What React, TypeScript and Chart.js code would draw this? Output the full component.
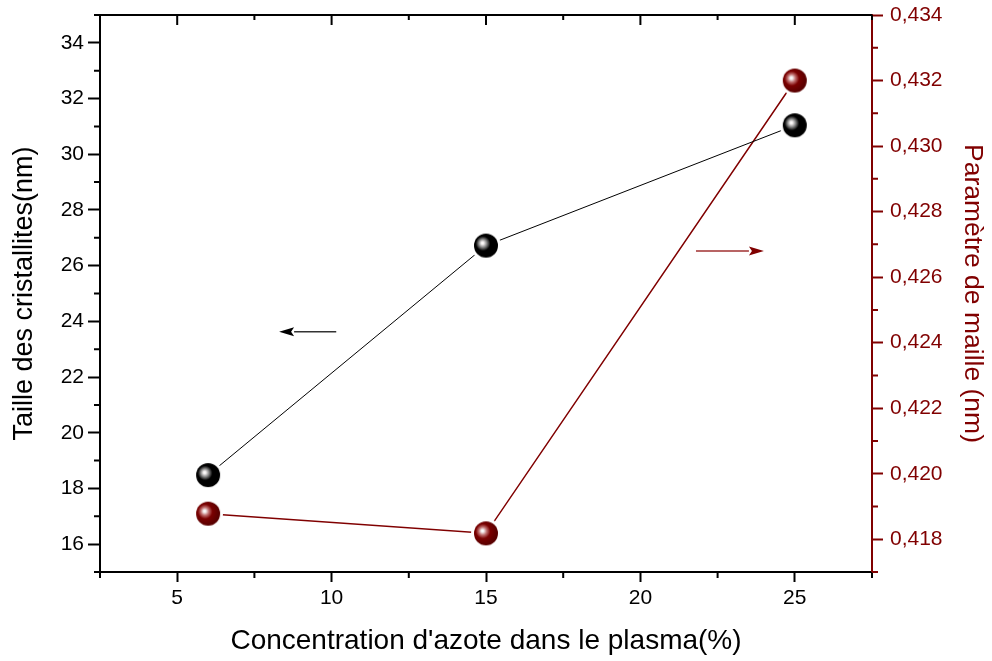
import { useEffect, useRef } from 'react';
import { Chart, registerables } from 'chart.js';
Chart.register(...registerables);

// ---- data ----
const concentration = [6, 15, 25];
const crystalliteSize = [18.48, 26.72, 31.04];
const latticeParam = [0.41878, 0.41818, 0.432];

// ---- ticks ----
const xMajorTicks = [5, 10, 15, 20, 25];
const xMinorTicks = [2.5, 7.5, 12.5, 17.5, 22.5, 27.5];
const yLeftMajorTicks = [16, 18, 20, 22, 24, 26, 28, 30, 32, 34];
const yLeftMinorTicks = [15, 17, 19, 21, 23, 25, 27, 29, 31, 33, 35];
const yRightMajorTicks = [0.418, 0.42, 0.422, 0.424, 0.426, 0.428, 0.43, 0.432, 0.434];
const yRightMinorTicks = [0.417, 0.419, 0.421, 0.423, 0.425, 0.427, 0.429, 0.431, 0.433];

// ---- arrow annotations (data units) ----
const leftArrow = { from: 10.15, to: 8.3, value: 23.63 };
const rightArrow = { from: 21.8, to: 24.0, value: 0.4268 };

const FONT = "'Liberation Sans', Arial, Helvetica, sans-serif";
const RED = '#800000';

function makeSphere(base: string, mid: string, edge: string, r: number): HTMLCanvasElement {
  const pad = 3;
  const size = Math.ceil((r + pad) * 2);
  const c = document.createElement('canvas');
  c.width = size;
  c.height = size;
  const ctx = c.getContext('2d')!;
  const cx = size / 2;
  const cy = size / 2;
  ctx.fillStyle = '#ffffff';
  ctx.beginPath();
  ctx.arc(cx, cy, r + pad, 0, Math.PI * 2);
  ctx.fill();
  const hx = cx - r * 0.3;
  const hy = cy - r * 0.22;
  const g = ctx.createRadialGradient(hx, hy, 0, hx + r * 0.1, hy + r * 0.08, r * 1.1);
  g.addColorStop(0, '#ffffff');
  g.addColorStop(0.1, '#f4f0f0');
  g.addColorStop(0.3, mid);
  g.addColorStop(0.55, base);
  g.addColorStop(1, edge);
  ctx.fillStyle = g;
  ctx.beginPath();
  ctx.arc(cx, cy, r, 0, Math.PI * 2);
  ctx.fill();
  return c;
}

function drawArrow(ctx: CanvasRenderingContext2D, x1: number, x2: number, y: number, lineColor: string, headColor: string, lw: number) {
  const dir = Math.sign(x2 - x1);
  const headLen = 15;
  const headHalf = 4.5;
  ctx.save();
  ctx.strokeStyle = lineColor;
  ctx.lineWidth = lw;
  ctx.beginPath();
  ctx.moveTo(x1, y);
  ctx.lineTo(x2 - dir * headLen, y);
  ctx.stroke();
  ctx.fillStyle = headColor;
  ctx.beginPath();
  ctx.moveTo(x2, y);
  ctx.lineTo(x2 - dir * headLen, y - headHalf);
  ctx.lineTo(x2 - dir * headLen * 0.8, y);
  ctx.lineTo(x2 - dir * headLen, y + headHalf);
  ctx.closePath();
  ctx.fill();
  ctx.restore();
}

const framePlugin = {
  id: 'frameAndMinor',
  afterDatasetsDraw(chart: any) {
    const { ctx, scales } = chart;
    const x = scales.x;
    const y = scales.y;
    const y2 = scales.y2;
    drawArrow(ctx, x.getPixelForValue(leftArrow.from), x.getPixelForValue(leftArrow.to), y.getPixelForValue(leftArrow.value), '#333333', '#000000', 1.5);
    drawArrow(ctx, x.getPixelForValue(rightArrow.from), x.getPixelForValue(rightArrow.to), y2.getPixelForValue(rightArrow.value), '#b86464', RED, 2);
  },
  afterDraw(chart: any) {
    const { ctx, chartArea, scales } = chart;
    const x = scales.x;
    const y = scales.y;
    const y2 = scales.y2;
    ctx.save();
    ctx.lineWidth = 2;
    ctx.strokeStyle = '#000';
    // top frame
    ctx.beginPath();
    ctx.moveTo(chartArea.left - 1, chartArea.top);
    ctx.lineTo(chartArea.right, chartArea.top);
    ctx.stroke();
    ctx.beginPath();
    for (const v of xMajorTicks) {
      const px = x.getPixelForValue(v);
      ctx.moveTo(px, chartArea.top);
      ctx.lineTo(px, chartArea.top + 10);
    }
    for (const v of xMinorTicks) {
      const px = x.getPixelForValue(v);
      ctx.moveTo(px, chartArea.top);
      ctx.lineTo(px, chartArea.top + 5);
      // bottom minor
      ctx.moveTo(px, chartArea.bottom);
      ctx.lineTo(px, chartArea.bottom + 6);
    }
    for (const v of yLeftMinorTicks) {
      const py = y.getPixelForValue(v);
      ctx.moveTo(chartArea.left, py);
      ctx.lineTo(chartArea.left - 6, py);
    }
    ctx.stroke();
    ctx.strokeStyle = RED;
    ctx.beginPath();
    for (const v of yRightMinorTicks) {
      const py = y2.getPixelForValue(v);
      ctx.moveTo(chartArea.right, py);
      ctx.lineTo(chartArea.right + 6, py);
    }
    ctx.stroke();
    ctx.restore();
  },
};

export default function App() {
  const ref = useRef<HTMLCanvasElement>(null);
  useEffect(() => {
    const canvas = ref.current!;
    const blackSphere = makeSphere('#000000', '#8a8a8a', '#000000', 12);
    const redSphere = makeSphere('#7a0000', '#c07070', '#5a0000', 12);
    const chart = new Chart(canvas, {
      type: 'scatter',
      data: {
        datasets: [
          {
            label: 'Taille des cristallites',
            data: concentration.map((c, i) => ({ x: c, y: crystalliteSize[i] })),
            yAxisID: 'y',
            showLine: true,
            borderColor: '#000000',
            borderWidth: 1,
            pointStyle: blackSphere as any,
            pointRadius: 12,
            pointHoverRadius: 12,
          },
          {
            label: 'Paramètre de maille',
            data: concentration.map((c, i) => ({ x: c, y: latticeParam[i] })),
            yAxisID: 'y2',
            showLine: true,
            borderColor: RED,
            borderWidth: 1.5,
            pointStyle: redSphere as any,
            pointRadius: 12,
            pointHoverRadius: 12,
          },
        ],
      },
      options: {
        responsive: false,
        animation: false,
        layout: { padding: { top: 15, left: 0, right: 0, bottom: 0 } },
        plugins: { legend: { display: false }, tooltip: { enabled: false } },
        scales: {
          x: {
            type: 'linear',
            position: 'bottom',
            min: 2.5,
            max: 27.5,
            afterBuildTicks: (s: any) => {
              s.ticks = xMajorTicks.map((v) => ({ value: v }));
            },
            afterFit: (s: any) => {
              s.height = 89;
              s.paddingLeft = 0;
              s.paddingRight = 0;
            },
            ticks: { font: { family: FONT, size: 21 }, color: '#000', padding: 4, maxRotation: 0 },
            grid: { drawOnChartArea: false, tickLength: 10, tickWidth: 2, tickColor: '#000' },
            border: { display: true, color: '#000', width: 2 },
            title: {
              display: true,
              text: "Concentration d'azote dans le plasma(%)",
              font: { family: FONT, size: 28 },
              color: '#000',
              padding: { top: 0, bottom: 3 },
            },
          },
          y: {
            type: 'linear',
            position: 'left',
            min: 15,
            max: 35,
            afterBuildTicks: (s: any) => {
              s.ticks = yLeftMajorTicks.map((v) => ({ value: v }));
            },
            afterFit: (s: any) => {
              s.width = 100;
              s.paddingTop = 0;
              s.paddingBottom = 0;
            },
            ticks: { font: { family: FONT, size: 21 }, color: '#000', padding: 4, callback: (v: any) => String(v) },
            grid: { drawOnChartArea: false, tickLength: 12, tickWidth: 2, tickColor: '#000' },
            border: { display: true, color: '#000', width: 2 },
            title: {
              display: true,
              text: 'Taille des cristallites(nm)',
              font: { family: FONT, size: 27 },
              color: '#000',
              padding: { top: 8, bottom: 0 },
            },
          },
          y2: {
            type: 'linear',
            position: 'right',
            min: 0.417,
            max: 0.434,
            afterBuildTicks: (s: any) => {
              s.ticks = yRightMajorTicks.map((v) => ({ value: v }));
            },
            afterFit: (s: any) => {
              s.width = 120;
              s.paddingTop = 0;
              s.paddingBottom = 0;
            },
            ticks: {
              font: { family: FONT, size: 21 },
              color: RED,
              padding: 7,
              callback: (v: any) => Number(v).toFixed(3).replace('.', ','),
            },
            grid: { drawOnChartArea: false, tickLength: 11, tickWidth: 2, tickColor: RED },
            border: { display: true, color: RED, width: 2 },
            title: {
              display: true,
              text: 'Paramètre de maille (nm)',
              font: { family: FONT, size: 26.5 },
              color: RED,
              padding: { top: 4, bottom: 0 },
            },
          },
        },
      },
      plugins: [framePlugin],
    });
    return () => chart.destroy();
  }, []);
  return (
    <div style={{ position: 'absolute', left: 0, top: 0, width: 992, height: 661, background: '#fff' }}>
      <canvas ref={ref} width={992} height={661} style={{ display: 'block' }} />
    </div>
  );
}
